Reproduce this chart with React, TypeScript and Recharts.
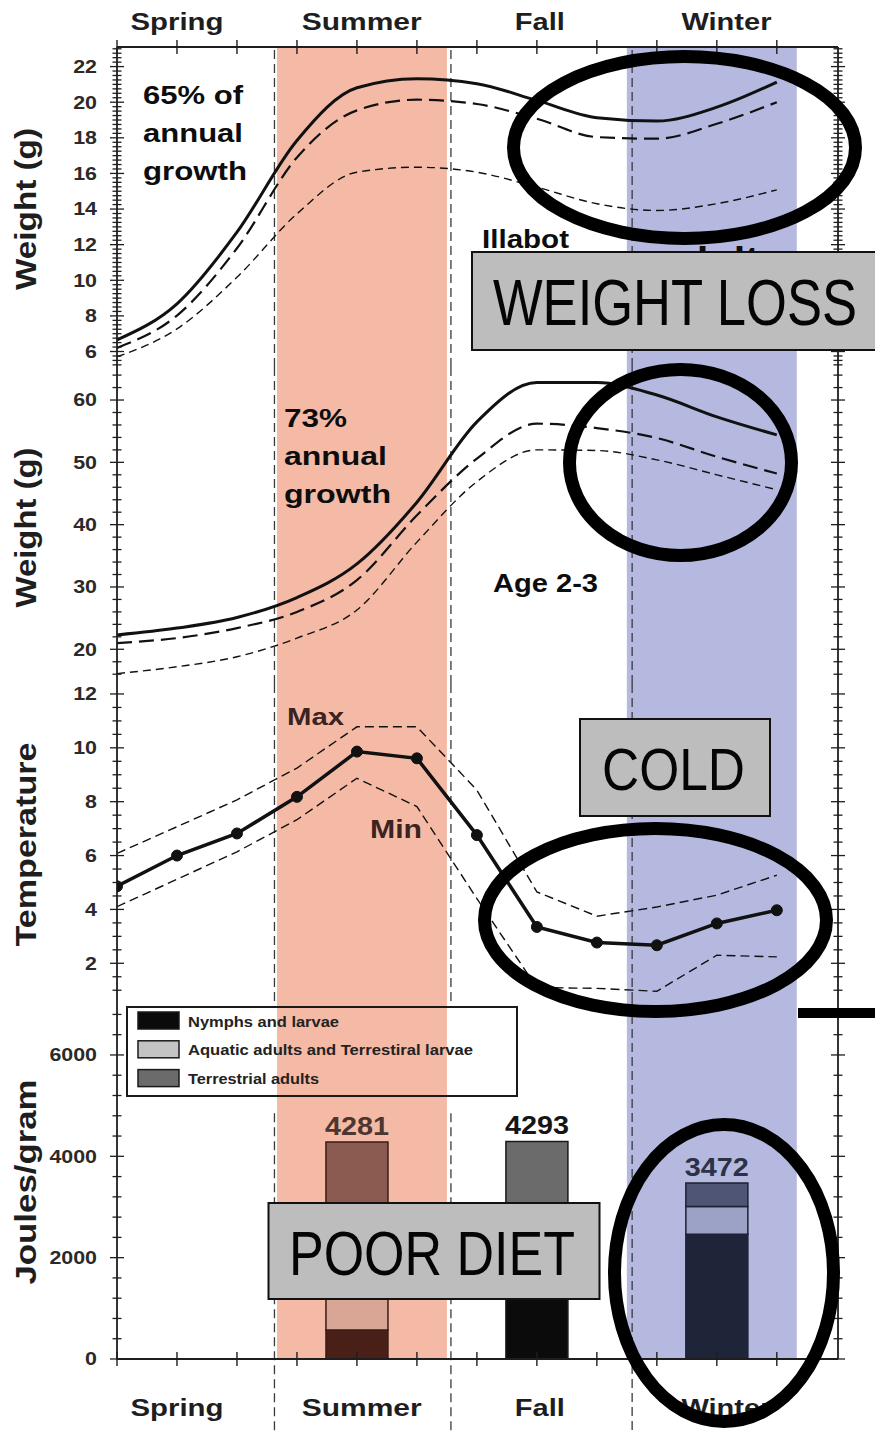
import React from "react"
import {
  ComposedChart,
  Line,
  Bar,
  Cell,
  XAxis,
  YAxis,
  ReferenceArea,
  ReferenceLine,
  LabelList,
  Legend,
} from "recharts"

// x positions: one per month tick (Spring starts at 0)
const months = [0, 1, 2, 3, 4, 5, 6, 7, 8, 9, 10, 11]

// top panel: Illabot adults weight (g)
const adultHigh = [6.65, 8.68, 12.7, 17.85, 20.81, 21.32, 21.04, 20.1, 19.13, 18.94, 19.72, 21.13]
const adultMid = [6.2, 8.02, 11.8, 16.9, 19.54, 20.14, 19.9, 19.07, 18.04, 17.95, 18.79, 20.0]
const adultLow = [5.7, 7.27, 10.17, 13.73, 16.07, 16.35, 16.07, 15.23, 14.3, 13.92, 14.3, 15.08]

// second panel: age 2-3 weight (g)
const age23High = [22.3, 23.4, 25.1, 28.3, 33.7, 43.6, 56.5, 62.8, 62.8, 60.8, 57.3, 54.4]
const age23Mid = [21.0, 21.8, 23.4, 26.0, 31.1, 41.5, 50.6, 56.2, 55.5, 53.9, 50.9, 48.2]
const age23Low = [16.1, 17.2, 18.8, 21.8, 26.3, 37.2, 46.9, 52.0, 51.9, 50.4, 48.0, 45.6]

// third panel: temperature
const tempMean = [4.86, 6.0, 6.82, 8.18, 9.86, 9.61, 6.76, 3.35, 2.77, 2.67, 3.48, 3.97]
const tempMax = [6.08, 7.07, 8.07, 9.25, 10.78, 10.78, 8.43, 4.65, 3.75, 4.09, 4.53, 5.27]
const tempMin = [4.1, 5.12, 6.14, 7.33, 8.87, 7.82, 4.4, 1.1, 1.07, 0.96, 2.3, 2.24]

// bottom panel: diet energy (Joules/gram)
const barSeasons = [4, 7, 10]
const nymphs = [570, 1900, 2464]
const aquatic = [1000, 300, 545]
const terrestrial = [2711, 2093, 463]
const totals = [4281, 4293, 3472]

const legendNames = ["Nymphs and larvae", "Aquatic adults and Terrestiral larvae", "Terrestrial adults"]

const seasonNames = ["Spring", "Summer", "Fall", "Winter"]
const seasonLabelPos = [1, 4.08, 7.05, 10.16]
const seasonLabelLen = [93, 120, 50, 90]

const summerBand = [2.667, 5.5]
const winterBand = [8.5, 11.333]
const seasonBreaks = [2.625, 5.567, 8.588]

const X_DOMAIN: [number, number] = [0, 12.02]
const FONT = "'Liberation Sans', Arial, Helvetica, sans-serif"
const INK = "#1e1e1e"
const SALMON = "#f5baa6"
const LAVENDER = "#b5b9df"

// stacked bar colours, as they look under each season band
const nymphFill = ["#4a1f17", "#0b0b0b", "#1f2538"]
const aquaticFill = ["#d9a696", "#c4c4c4", "#9ca2c6"]
const terrFill = ["#8b5a50", "#6b6b6b", "#4e5575"]
const barStroke = ["#3a1c16", "#1a1a1a", "#1c2133"]
const totalColor = ["#4d3530", "#151515", "#2d3148"]

const steps = (from: number, to: number, step: number) => {
  const out: number[] = []
  for (let v = from; v <= to + 1e-9; v += step) out.push(Math.round(v * 1000) / 1000)
  return out
}

const xTicks = [...months, ...seasonLabelPos.filter((p) => !months.includes(p))].sort((a, b) => a - b)

const makeXTick = (labelDy: number | null) => (props: any) => {
  const { x, y, payload } = props
  const v = payload.value
  const li = seasonLabelPos.findIndex((p) => Math.abs(p - v) < 1e-6)
  return (
    <g>
      {months.includes(v) && <line x1={x} x2={x} y1={y - 7} y2={y + 7} stroke={INK} strokeWidth={1.4} />}
      {labelDy !== null && li >= 0 && (
        <text
          x={x}
          y={y + labelDy}
          textAnchor="middle"
          fontFamily={FONT}
          fontWeight={700}
          fontSize={24}
          fill={INK}
          textLength={seasonLabelLen[li]}
          lengthAdjust="spacingAndGlyphs"
        >
          {seasonNames[li]}
        </text>
      )}
    </g>
  )
}

const makeYTick = (majors: number[], showLabel: boolean) => (props: any) => {
  const { x, y, payload } = props
  const v = payload.value
  const major = majors.some((m) => Math.abs(m - v) < 1e-6)
  const len = major ? 7 : 4.5
  const txt = String(v)
  return (
    <g>
      <line x1={x - len} x2={x + len} y1={y} y2={y} stroke={INK} strokeWidth={1.3} />
      {showLabel && major && (
        <text
          x={x - 20}
          y={y}
          dy={6.3}
          textAnchor="end"
          fontFamily={FONT}
          fontWeight={700}
          fontSize={17.5}
          fill="#2a2a2a"
          textLength={txt.length * 11.9}
          lengthAdjust="spacingAndGlyphs"
        >
          {txt}
        </text>
      )}
    </g>
  )
}

function AxisTitle(props: any) {
  const { viewBox, text, len } = props
  const cy = (viewBox?.y ?? 0) + (viewBox?.height ?? 0) / 2 + 2
  return (
    <text
      x={35.5}
      y={cy}
      transform={`rotate(-90 35.5 ${cy})`}
      textAnchor="middle"
      fontFamily={FONT}
      fontWeight={700}
      fontSize={30}
      fill={INK}
      textLength={len}
      lengthAdjust="spacingAndGlyphs"
    >
      {text}
    </text>
  )
}

const axisLine = { stroke: INK, strokeWidth: 1.8 }

const yAxes = (domain: [number, number], ticks: number[], majors: number[], title: string, len: number) => [
  <YAxis
    key="yl"
    type="number"
    domain={domain}
    allowDataOverflow
    ticks={ticks}
    interval={0}
    width={117}
    tickSize={0}
    tickMargin={0}
    tickLine={false}
    axisLine={axisLine}
    tick={makeYTick(majors, true)}
    label={<AxisTitle text={title} len={len} />}
  />,
  <YAxis
    key="yr"
    yAxisId="r"
    orientation="right"
    type="number"
    domain={domain}
    allowDataOverflow
    ticks={ticks}
    interval={0}
    width={37}
    tickSize={0}
    tickMargin={0}
    tickLine={false}
    axisLine={axisLine}
    tick={makeYTick(majors, false)}
  />,
]

const bottomX = (height: number, labelDy: number | null) => (
  <XAxis
    key="xb"
    dataKey="m"
    type="number"
    domain={X_DOMAIN}
    allowDataOverflow
    ticks={xTicks}
    interval={0}
    height={height}
    tickSize={0}
    tickMargin={0}
    tickLine={false}
    axisLine={axisLine}
    tick={makeXTick(labelDy)}
  />
)

const bands = () => [
  <ReferenceArea key="bs" x1={summerBand[0]} x2={summerBand[1]} fill={SALMON} fillOpacity={1} stroke="none" />,
  <ReferenceArea key="bw" x1={winterBand[0]} x2={winterBand[1]} fill={LAVENDER} fillOpacity={1} stroke="none" />,
]

const breakStyle = { stroke: "#3a3a3a", strokeWidth: 1.3, strokeDasharray: "9 5" }

const breaks = () =>
  seasonBreaks.map((b, i) => <ReferenceLine key={"br" + i} x={b} {...breakStyle} />)

const lineRows = (hi: number[], mid: number[], lo: number[]) =>
  months.map((m, i) => ({ m, hi: hi[i], mid: mid[i], lo: lo[i] }))

const adultRows = lineRows(adultHigh, adultMid, adultLow)
const age23Rows = lineRows(age23High, age23Mid, age23Low)
const tempRows = lineRows(tempMax, tempMean, tempMin)
const barRows = barSeasons.map((m, i) => ({
  m,
  nymph: nymphs[i],
  aquatic: aquatic[i],
  terr: terrestrial[i],
  total: totals[i],
}))

const weightLines = () => [
  <Line key="hi" type="monotone" dataKey="hi" stroke="#111" strokeWidth={3} dot={false} activeDot={false} isAnimationActive={false} />,
  <Line key="mid" type="monotone" dataKey="mid" stroke="#111" strokeWidth={2.2} strokeDasharray="15 7" dot={false} activeDot={false} isAnimationActive={false} />,
  <Line key="lo" type="monotone" dataKey="lo" stroke="#111" strokeWidth={1.4} strokeDasharray="8 5" dot={false} activeDot={false} isAnimationActive={false} />,
]

function LegendBox() {
  const swatch = [nymphFill[1], aquaticFill[1], terrFill[1]]
  const lens = [151, 285, 131]
  return (
    <svg width={392} height={91} style={{ display: "block" }}>
      <rect x={1} y={1} width={390} height={89} fill="none" stroke="#1a1a1a" strokeWidth={2} />
      {legendNames.map((n, i) => (
        <g key={n}>
          <rect x={12} y={6 + i * 28.8} width={41} height={17} fill={swatch[i]} stroke="#1a1a1a" strokeWidth={1.5} />
          <text
            x={62}
            y={20.5 + i * 28.8}
            fontFamily={FONT}
            fontWeight={700}
            fontSize={15.5}
            fill="#222"
            textLength={lens[i]}
            lengthAdjust="spacingAndGlyphs"
          >
            {n}
          </text>
        </g>
      ))}
    </svg>
  )
}

function TotalLabel(props: any) {
  const { x, y, width, value, index } = props
  const i = typeof index === "number" ? index : totals.indexOf(value)
  return (
    <text
      x={x + width / 2}
      y={y - 7}
      textAnchor="middle"
      fontFamily={FONT}
      fontWeight={700}
      fontSize={25}
      fill={totalColor[i] ?? INK}
      textLength={64}
      lengthAdjust="spacingAndGlyphs"
    >
      {value}
    </text>
  )
}

const boldText = (x: number, y: number, s: string, len: number, size = 25.6, fill = "#0d0d0d") => (
  <text
    key={s + x + y}
    x={x}
    y={y}
    fontFamily={FONT}
    fontWeight={700}
    fontSize={size}
    fill={fill}
    textLength={len}
    lengthAdjust="spacingAndGlyphs"
  >
    {s}
  </text>
)

// narrow lettering of the callouts: squeeze a regular face horizontally
function Callout({ x, y, w, h, text, tx, ty, tlen, size, squeeze }: any) {
  return (
    <g>
      <rect x={x} y={y} width={w} height={h} fill="#bdbdbd" stroke="#111" strokeWidth={2} />
      <g transform={`translate(${tx} ${ty}) scale(${squeeze} 1)`}>
        <text
          x={0}
          y={0}
          fontFamily={FONT}
          fontSize={size}
          fill="#050505"
          textLength={tlen / squeeze}
          lengthAdjust="spacingAndGlyphs"
        >
          {text}
        </text>
      </g>
    </g>
  )
}

export default function App() {
  return (
    <div style={{ position: "absolute", left: 0, top: 0, width: 875, height: 1432, background: "#fff", overflow: "hidden" }}>
      {/* panel 1: adults weight */}
      <div style={{ position: "absolute", left: 0, top: 0, zIndex: 4 }}>
        <ComposedChart width={875} height={375} data={adultRows} margin={{ top: 0, right: 0, bottom: 8, left: 0 }}>
          <XAxis
            xAxisId="top"
            orientation="top"
            dataKey="m"
            type="number"
            domain={X_DOMAIN}
            allowDataOverflow
            ticks={xTicks}
            interval={0}
            height={47}
            tickSize={0}
            tickMargin={0}
            tickLine={false}
            axisLine={axisLine}
            tick={makeXTick(-17)}
          />
          {bottomX(0, null)}
          {yAxes([5.13, 23.1], steps(5.25, 23, 0.25), steps(6, 22, 2), "Weight (g)", 162)}
          {bands()}
          {breaks()}
          {weightLines()}
        </ComposedChart>
      </div>

      {/* panel 2: age 2-3 weight */}
      <div style={{ position: "absolute", left: 0, top: 359, zIndex: 3 }}>
        <ComposedChart width={875} height={333} data={age23Rows} margin={{ top: 8, right: 0, bottom: 8, left: 0 }}>
          {bottomX(0, null)}
          {yAxes([14.43, 65.3], steps(16, 64, 2), [20, 30, 40, 50, 60], "Weight (g)", 160)}
          {bands()}
          {breaks()}
          {weightLines()}
        </ComposedChart>
      </div>

      {/* panel 3: temperature */}
      <div style={{ position: "absolute", left: 0, top: 676, zIndex: 2 }}>
        <ComposedChart width={875} height={333} data={tempRows} margin={{ top: 8, right: 0, bottom: 8, left: 0 }}>
          {bottomX(0, null)}
          {yAxes([0.6, 12.37], steps(1, 12, 0.5), steps(2, 12, 2), "Temperature", 204)}
          {bands()}
          {breaks()}
          <Line type="linear" dataKey="hi" stroke="#111" strokeWidth={1.4} strokeDasharray="9 5" dot={false} activeDot={false} isAnimationActive={false} />
          <Line type="linear" dataKey="lo" stroke="#111" strokeWidth={1.4} strokeDasharray="9 5" dot={false} activeDot={false} isAnimationActive={false} />
          <Line
            type="linear"
            dataKey="mid"
            stroke="#111"
            strokeWidth={3.5}
            dot={{ r: 5.5, fill: "#111", stroke: "#111", strokeWidth: 1 }}
            activeDot={false}
            isAnimationActive={false}
          />
        </ComposedChart>
      </div>

      {/* panel 4: diet energy */}
      <div style={{ position: "absolute", left: 0, top: 993, zIndex: 1 }}>
        <ComposedChart width={875} height={439} data={barRows} margin={{ top: 8, right: 0, bottom: 0, left: 0 }}>
          {bottomX(73, 57)}
          {yAxes([0, 7065], steps(0, 6800, 400), [0, 2000, 4000, 6000], "Joules/gram", 205)}
          {bands()}
          <ReferenceLine segment={[{ x: seasonBreaks[0], y: 4850 }, { x: seasonBreaks[0], y: -1500 }]} ifOverflow="visible" {...breakStyle} />
          <ReferenceLine segment={[{ x: seasonBreaks[1], y: 4850 }, { x: seasonBreaks[1], y: -1500 }]} ifOverflow="visible" {...breakStyle} />
          <ReferenceLine segment={[{ x: seasonBreaks[2], y: 7065 }, { x: seasonBreaks[2], y: -1500 }]} ifOverflow="visible" {...breakStyle} />
          <Legend
            layout="vertical"
            align="center"
            verticalAlign="middle"
            wrapperStyle={{ left: 126, top: 13, width: 392, height: 91 }}
            content={() => <LegendBox />}
          />
          <Bar dataKey="nymph" name={legendNames[0]} stackId="e" barSize={62} strokeWidth={1.5} isAnimationActive={false}>
            {barRows.map((_, i) => (
              <Cell key={i} fill={nymphFill[i]} stroke={barStroke[i]} />
            ))}
          </Bar>
          <Bar dataKey="aquatic" name={legendNames[1]} stackId="e" barSize={62} strokeWidth={1.5} isAnimationActive={false}>
            {barRows.map((_, i) => (
              <Cell key={i} fill={aquaticFill[i]} stroke={barStroke[i]} />
            ))}
          </Bar>
          <Bar dataKey="terr" name={legendNames[2]} stackId="e" barSize={62} strokeWidth={1.5} isAnimationActive={false}>
            {barRows.map((_, i) => (
              <Cell key={i} fill={terrFill[i]} stroke={barStroke[i]} />
            ))}
            <LabelList dataKey="total" content={<TotalLabel />} />
          </Bar>
        </ComposedChart>
      </div>

      {/* annotations drawn over the figure */}
      <svg width={875} height={1432} style={{ position: "absolute", left: 0, top: 0, zIndex: 10, pointerEvents: "none" }}>
        {boldText(143, 104, "65% of", 100)}
        {boldText(143, 142, "annual", 100)}
        {boldText(143, 180, "growth", 104)}
        {boldText(482, 248, "Illabot", 87)}
        {boldText(660, 265, "adults", 122)}
        {boldText(284, 427, "73%", 63)}
        {boldText(284, 465, "annual", 103)}
        {boldText(284, 503, "growth", 107)}
        {boldText(493, 592, "Age 2-3", 105)}
        {boldText(287, 725, "Max", 57, 24, "#3c2320")}
        {boldText(370, 838, "Min", 52, 25, "#3c2320")}

        <ellipse cx={684.5} cy={147.5} rx={171} ry={91} fill="none" stroke="#000" strokeWidth={13} />
        <ellipse cx={680.5} cy={462.5} rx={111} ry={93} fill="none" stroke="#000" strokeWidth={13} />
        <ellipse cx={655.5} cy={920} rx={171} ry={91.5} fill="none" stroke="#000" strokeWidth={13} />
        <ellipse cx={724} cy={1273} rx={109.5} ry={148.5} fill="none" stroke="#000" strokeWidth={13} />
        <rect x={798} y={1008} width={80} height={10} fill="#000" />

        <Callout x={472} y={252} w={420} h={98} text="WEIGHT LOSS" tx={493} ty={325} tlen={364} size={65} squeeze={0.806} />
        <Callout x={580} y={719} w={190} h={97} text="COLD" tx={602} ty={790} tlen={143} size={60} squeeze={0.858} />
        <Callout x={268.5} y={1203} w={331} h={96} text="POOR DIET" tx={289} ty={1275} tlen={286} size={63} squeeze={0.825} />
      </svg>
    </div>
  )
}
